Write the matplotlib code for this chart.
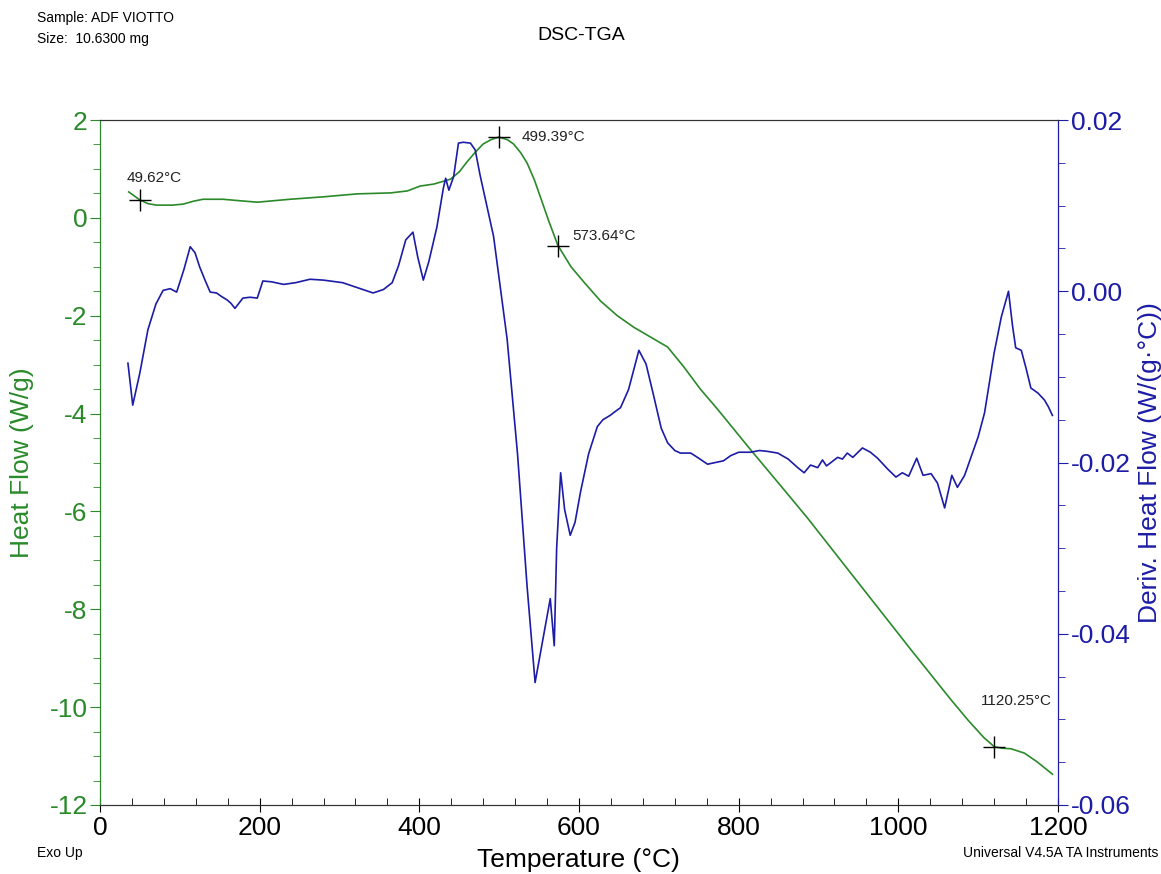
import matplotlib
matplotlib.use("Agg")
import matplotlib.pyplot as plt
from matplotlib.ticker import MultipleLocator

plt.rcParams['font.family'] = ['Liberation Sans', 'DejaVu Sans']
plt.rcParams['axes.unicode_minus'] = False

# heat flow curve (W/g) vs temperature (°C)
hf_temp = [36, 49.6, 60, 71, 90, 104, 117, 129, 154, 175, 197, 238, 280, 322, 364,
           385, 401, 418, 439, 450, 460, 470, 480, 490, 499.4, 510, 518, 527, 535,
           544, 552, 562, 573.6, 590, 606, 627, 648, 669, 690, 711, 731, 752,
           773, 815, 857, 886, 950, 1016, 1066, 1087, 1107, 1120.25, 1130, 1141,
           1158, 1174, 1193]
hf_val = [0.53, 0.37, 0.29, 0.26, 0.26, 0.28, 0.34, 0.38, 0.38, 0.35, 0.32, 0.38,
          0.43, 0.49, 0.51, 0.55, 0.65, 0.69, 0.79, 0.94, 1.15, 1.34, 1.51, 1.60,
          1.65, 1.60, 1.51, 1.33, 1.12, 0.78, 0.41, -0.06, -0.565, -1.00, -1.31,
          -1.70, -2.0, -2.24, -2.44, -2.64, -3.04, -3.50, -3.90, -4.74, -5.56,
          -6.13, -7.46, -8.83, -9.85, -10.26, -10.62, -10.81, -10.84, -10.85,
          -10.94, -11.12, -11.37]

# derivative of heat flow (W/(g·°C))
dhf_temp = [35, 41, 50, 60, 70, 79, 88, 96, 105, 113, 119, 125, 132, 138, 146,
            152, 159, 164, 169, 174, 179, 188, 197, 204, 215, 230, 245, 263, 280,
            304, 320, 342, 355, 366, 374, 383, 392, 398, 405, 412, 422, 430, 433,
            437, 443, 449, 455, 464, 470, 476, 493, 510, 523, 535, 545, 556, 564,
            569, 572, 577, 582, 589, 595, 602, 612, 623, 630, 639, 646, 652, 662,
            675, 684, 693, 703, 711, 720, 727, 740, 750, 761, 771, 781, 790, 800,
            815, 826, 836, 849, 862, 874, 882, 890, 899, 905, 910, 924, 930, 936,
            943, 955, 965, 974, 987, 997, 1005, 1013, 1023, 1031, 1041, 1049,
            1058, 1067, 1074, 1083, 1091, 1100, 1108, 1120, 1129, 1138, 1143,
            1147, 1154, 1160, 1166, 1175, 1183, 1188, 1193]
dhf_val = [-0.0084, -0.0133, -0.0095, -0.0045, -0.0015, 0.0001, 0.0003, -0.0001,
           0.0025, 0.0052, 0.0045, 0.0028, 0.0012, -0.0001, -0.0002, -0.0006,
           -0.0010, -0.0014, -0.0020, -0.0014, -0.0008, -0.0007, -0.0008, 0.0012,
           0.0011, 0.0008, 0.0010, 0.0014, 0.0013, 0.0010, 0.0005, -0.0002,
           0.0002, 0.0010, 0.0030, 0.0060, 0.0069, 0.0040, 0.0013, 0.0035, 0.0075,
           0.0120, 0.0132, 0.0118, 0.0134, 0.0173, 0.0174, 0.0173, 0.0165, 0.0136,
           0.0064, -0.0056, -0.0190, -0.0345, -0.0457, -0.0400, -0.0359, -0.0414,
           -0.0300, -0.0212, -0.0255, -0.0285, -0.0270, -0.0234, -0.0190,
           -0.0158, -0.0150, -0.0145, -0.0140, -0.0136, -0.0115, -0.0069,
           -0.0085, -0.0120, -0.0160, -0.0177, -0.0186, -0.0189, -0.0189, -0.0195,
           -0.0202, -0.0200, -0.0198, -0.0192, -0.0188, -0.0188, -0.0186, -0.0187,
           -0.0189, -0.0196, -0.0206, -0.0212, -0.0203, -0.0206, -0.0197, -0.0204,
           -0.0194, -0.0196, -0.0189, -0.0194, -0.0183, -0.0188, -0.0195, -0.0208,
           -0.0217, -0.0212, -0.0216, -0.0195, -0.0215, -0.0213, -0.0224, -0.0253,
           -0.0215, -0.0229, -0.0215, -0.0194, -0.0170, -0.0142, -0.0072, -0.0030,
           0.0000, -0.0040, -0.0066, -0.0069, -0.0090, -0.0113, -0.0119, -0.0127,
           -0.0135, -0.0145]

# marked points on the heat flow curve
mark_temp = [49.62, 499.39, 573.64, 1120.25]
mark_val = [0.37, 1.65, -0.565, -10.81]
mark_labels = ["49.62°C", "499.39°C", "573.64°C", "1120.25°C"]

green = '#2a8a2a'
blue = '#1c1ca6'

W, H = 1161, 874
fig = plt.figure(figsize=(W / 100, H / 100), dpi=100)
ax = fig.add_axes([100 / W, 1 - 805 / H, 958 / W, 685 / H])
ax2 = ax.twinx()

ax.plot(hf_temp, hf_val, color=green, lw=1.2, zorder=3)
ax2.plot(dhf_temp, dhf_val, color=blue, lw=1.2)

ax.plot(mark_temp, mark_val, '+', color='black', ms=16, mew=1.0, zorder=4)
offsets = [(-13, 22), (23, 0), (14, 10), (-13, 46)]
for t, v, s, (dx, dy) in zip(mark_temp, mark_val, mark_labels, offsets):
    ax.annotate(s, (t, v), xytext=(dx, dy), textcoords='offset pixels',
                fontsize=11, va='center', ha='left', color='#222222')

ax.set_xlim(0, 1200)
ax.set_ylim(-12, 2)
ax2.set_ylim(-0.06, 0.02)

ax.xaxis.set_major_locator(MultipleLocator(200))
ax.xaxis.set_minor_locator(MultipleLocator(40))
ax.yaxis.set_major_locator(MultipleLocator(2))
ax.yaxis.set_minor_locator(MultipleLocator(0.5))
ax2.yaxis.set_major_locator(MultipleLocator(0.02))
ax2.yaxis.set_minor_locator(MultipleLocator(0.005))
ax2.yaxis.set_major_formatter(plt.FormatStrFormatter('%.2f'))

ax.tick_params(axis='x', which='major', direction='inout', length=10, labelsize=19, pad=3)
ax.tick_params(axis='x', which='minor', direction='in', length=5)
ax.tick_params(axis='y', which='major', direction='out', length=7, colors=green,
               labelsize=19, pad=2)
ax.tick_params(axis='y', which='minor', direction='out', length=5, colors=green)
ax2.tick_params(axis='y', which='major', direction='out', length=7, colors=blue,
                labelsize=19, pad=2)
ax2.tick_params(axis='y', which='minor', direction='out', length=5, colors=blue)

ax.spines['left'].set_color(green)
ax2.spines['left'].set_color(green)
ax2.spines['right'].set_color(blue)
for a in (ax, ax2):
    a.spines['top'].set_color('#333333')
    a.spines['bottom'].set_color('#333333')

ax.set_ylabel("Heat Flow (W/g)", color=green, fontsize=19)
ax.yaxis.set_label_coords(-0.069, 0.5)
ax2.set_ylabel("Deriv. Heat Flow (W/(g·°C))", color=blue, fontsize=19)
ax2.yaxis.set_label_coords(1.083, 0.5)

fig.text(578 / W, 1 - 860 / H, "Temperature (°C)", fontsize=19, ha='center', va='center')
fig.text(581 / W, 1 - 36 / H, "DSC-TGA", fontsize=14, ha='center', va='center')
fig.text(37 / W, 1 - 18 / H, "Sample: ADF VIOTTO", fontsize=10, va='center')
fig.text(37 / W, 1 - 39 / H, "Size:  10.6300 mg", fontsize=10, va='center')
fig.text(37 / W, 1 - 853 / H, "Exo Up", fontsize=10, va='center')
fig.text(1158 / W, 1 - 853 / H, "Universal V4.5A TA Instruments", fontsize=10,
         ha='right', va='center')

fig.savefig("out.png", dpi=100)
